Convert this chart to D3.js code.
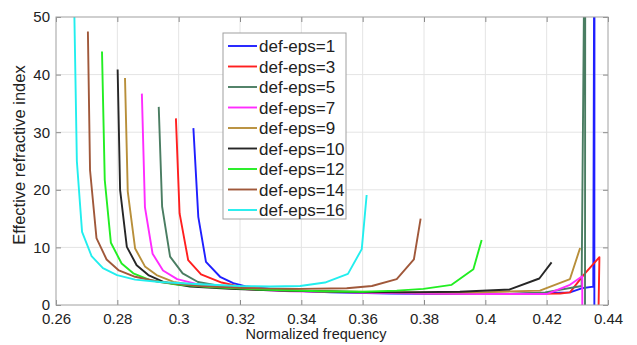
<!DOCTYPE html>
<meta charset="utf-8">
<style>
body { margin: 0; background: #fff; }
.tick-label { font: 15px "Liberation Sans", Arial, sans-serif; fill: #222; }
.axis-title { font: 14.5px "Liberation Sans", Arial, sans-serif; fill: #222; }
.legend-label { font: 17px "Liberation Sans", Arial, sans-serif; fill: #222; }
</style>
<body>
<div id="chart"></div>
<script src="https://cdn.jsdelivr.net/npm/d3@7"></script>
<script>

var width = 637,
    height = 345;
var margin = {top: 17, right: 29, bottom: 40, left: 56};

var xTicks = [0.26, 0.28, 0.3, 0.32, 0.34, 0.36, 0.38, 0.4, 0.42, 0.44];
var yTicks = [0, 10, 20, 30, 40, 50];

var names = ["def-eps=1", "def-eps=3", "def-eps=5", "def-eps=7", "def-eps=9",
             "def-eps=10", "def-eps=12", "def-eps=14", "def-eps=16"];
var colors = ["#1f1fff", "#ff1f1f", "#4a7d62", "#ff2cff", "#b88f3a",
              "#262626", "#22ee22", "#a0583a", "#22eeee"];

// normalized frequency / effective index
var freq1 = [0.3048, 0.3064, 0.3089, 0.3135, 0.3178, 0.3222, 0.3330, 0.3494, 0.3689, 0.3885, 0.4080, 0.4276, 0.4314, 0.4352, 0.4356, 0.4355];
var neff1 = [30.7, 15.3, 7.5, 4.9, 3.8, 3.2, 2.6, 2.2, 2.0, 1.9, 1.9, 2.2, 2.9, 3.2, 80, -80];

var freq3 = [0.2991, 0.3003, 0.3031, 0.3073, 0.3140, 0.3200, 0.3330, 0.3494, 0.3689, 0.3885, 0.4080, 0.4244, 0.4276, 0.4320, 0.4372, 0.4363];
var neff3 = [32.4, 15.9, 7.8, 5.3, 3.9, 3.2, 2.6, 2.3, 2.1, 2.0, 1.9, 2.0, 2.2, 5.2, 8.3, -20];

var freq5 = [0.2935, 0.2946, 0.2972, 0.3013, 0.3063, 0.3135, 0.3265, 0.3428, 0.3624, 0.3852, 0.4080, 0.4195, 0.4314, 0.4326, 0.4324];
var neff5 = [34.4, 17.1, 8.4, 5.5, 4.0, 3.3, 2.7, 2.4, 2.2, 2.0, 1.9, 2.2, 3.3, 80, -80];

var freq7 = [0.2880, 0.2890, 0.2915, 0.2949, 0.2995, 0.3070, 0.3200, 0.3363, 0.3559, 0.3787, 0.3983, 0.4200, 0.4276, 0.4316, 0.4317];
var neff7 = [36.7, 17.0, 8.9, 6.0, 4.5, 3.5, 2.8, 2.4, 2.2, 2.0, 1.9, 1.9, 3.5, 5.0, -20];

var freq9 = [0.2825, 0.2834, 0.2858, 0.2890, 0.2928, 0.2983, 0.3070, 0.3200, 0.3363, 0.3559, 0.3787, 0.3983, 0.4178, 0.4276, 0.4309];
var neff9 = [39.4, 19.7, 9.8, 6.7, 5.2, 4.0, 3.3, 2.8, 2.5, 2.3, 2.2, 2.2, 2.5, 4.5, 9.9];

var freq10 = [0.2801, 0.2809, 0.2831, 0.2863, 0.2901, 0.2950, 0.3037, 0.3167, 0.3330, 0.3526, 0.3722, 0.3917, 0.4080, 0.4176, 0.4216];
var neff10 = [40.9, 20.0, 10.1, 6.9, 5.2, 4.0, 3.2, 2.8, 2.5, 2.3, 2.2, 2.3, 2.7, 4.6, 7.4];

var freq12 = [0.2750, 0.2759, 0.2779, 0.2814, 0.2852, 0.2907, 0.2988, 0.3102, 0.3265, 0.3461, 0.3601, 0.3711, 0.3798, 0.3890, 0.3961, 0.3988];
var neff12 = [44.0, 21.7, 10.8, 7.2, 5.5, 4.3, 3.6, 3.1, 2.7, 2.4, 2.3, 2.5, 2.8, 3.5, 6.2, 11.3];

var freq14 = [0.2704, 0.2711, 0.2732, 0.2765, 0.2805, 0.2858, 0.2939, 0.3070, 0.3233, 0.3396, 0.3548, 0.3630, 0.3711, 0.3767, 0.3789];
var neff14 = [47.5, 23.4, 11.6, 7.9, 6.0, 4.9, 4.0, 3.3, 2.9, 2.8, 2.9, 3.3, 4.5, 7.9, 15.0];

var freq16 = [0.2660, 0.2668, 0.2685, 0.2716, 0.2753, 0.2799, 0.2858, 0.2939, 0.3070, 0.3200, 0.3298, 0.3396, 0.3477, 0.3552, 0.3597, 0.3613];
var neff16 = [50.0, 25.0, 12.7, 8.5, 6.4, 5.2, 4.4, 4.0, 3.6, 3.3, 3.2, 3.3, 3.9, 5.4, 9.7, 19.1];

var freqs = [freq1, freq3, freq5, freq7, freq9, freq10, freq12, freq14, freq16];
var neffs = [neff1, neff3, neff5, neff7, neff9, neff10, neff12, neff14, neff16];

var series = names.map(function(n, i) {
  return {
    name: n,
    color: colors[i],
    values: freqs[i].map(function(f, j) { return {x: f, y: neffs[i][j]}; })
  };
});

var w = width - margin.left - margin.right,
    h = height - margin.top - margin.bottom;

var x = d3.scaleLinear().domain([0.26, 0.44]).range([0, w]);
var y = d3.scaleLinear().domain([0, 50]).range([h, 0]);

var svg = d3.select("#chart").append("svg")
    .attr("width", width)
    .attr("height", height);

var g = svg.append("g")
    .attr("transform", "translate(" + margin.left + "," + margin.top + ")");

g.append("clipPath").attr("id", "clip")
  .append("rect").attr("width", w).attr("height", h);

// grid
g.append("g").selectAll("line")
  .data(xTicks.slice(1, -1)).enter().append("line")
    .attr("x1", function(d) { return x(d); })
    .attr("x2", function(d) { return x(d); })
    .attr("y1", 0).attr("y2", h)
    .attr("stroke", "#e4e4e4");
g.append("g").selectAll("line")
  .data(yTicks.slice(1, -1)).enter().append("line")
    .attr("y1", function(d) { return y(d); })
    .attr("y2", function(d) { return y(d); })
    .attr("x1", 0).attr("x2", w)
    .attr("stroke", "#e4e4e4");

// axes with inward ticks
var tickFmt = function(d) { return d3.format("~g")(d); };
g.append("g")
    .attr("transform", "translate(0," + h + ")")
    .call(d3.axisBottom(x).tickValues(xTicks).tickFormat(tickFmt).tickSizeInner(-5).tickSizeOuter(0).tickPadding(8));
g.append("g")
    .call(d3.axisLeft(y).tickValues(yTicks).tickSizeInner(-5).tickSizeOuter(0).tickPadding(6));
g.append("g")
    .call(d3.axisTop(x).tickValues(xTicks).tickFormat("").tickSizeInner(-5).tickSizeOuter(0));
g.append("g")
    .attr("transform", "translate(" + w + ",0)")
    .call(d3.axisRight(y).tickValues(yTicks).tickFormat("").tickSizeInner(-5).tickSizeOuter(0));

g.selectAll(".domain").remove();
g.selectAll(".tick line").attr("stroke", "#8a8a8a");
g.selectAll(".tick text").attr("class", "tick-label").attr("fill", null);

// lines
var line = d3.line()
    .x(function(d) { return x(d.x); })
    .y(function(d) { return y(d.y); });

g.append("g").attr("clip-path", "url(#clip)")
  .selectAll("path")
  .data(series).enter().append("path")
    .attr("d", function(d) { return line(d.values); })
    .attr("fill", "none")
    .attr("stroke", function(d) { return d.color; })
    .attr("stroke-width", 1.9)
    .attr("stroke-linejoin", "round");

// box
g.append("rect")
    .attr("width", w).attr("height", h)
    .attr("fill", "none")
    .attr("stroke", "#a0a0a0")
    .attr("stroke-width", 1);

// axis titles
svg.append("text")
    .attr("class", "axis-title")
    .attr("x", 316)
    .attr("y", 339)
    .attr("text-anchor", "middle")
    .text("Normalized frequency");

svg.append("text")
    .attr("class", "axis-title")
    .style("font-size", "16.5px")
    .attr("transform", "translate(25,155) rotate(-90)")
    .attr("text-anchor", "middle")
    .text("Effective refractive index");

// legend
var legend = svg.append("g").attr("transform", "translate(223,33)");
legend.append("rect")
    .attr("width", 123).attr("height", 186)
    .attr("fill", "#fff")
    .attr("stroke", "#a0a0a0");

var rows = legend.selectAll("g.row")
  .data(series).enter().append("g")
    .attr("class", "row")
    .attr("transform", function(d, i) { return "translate(0," + (13 + i * 20.5) + ")"; });
rows.append("line")
    .attr("x1", 5).attr("x2", 34)
    .attr("stroke", function(d) { return d.color; })
    .attr("stroke-width", 1.9);
rows.append("text")
    .attr("class", "legend-label")
    .attr("x", 36)
    .attr("dy", "0.36em")
    .text(function(d) { return d.name; });

</script>
</body>
